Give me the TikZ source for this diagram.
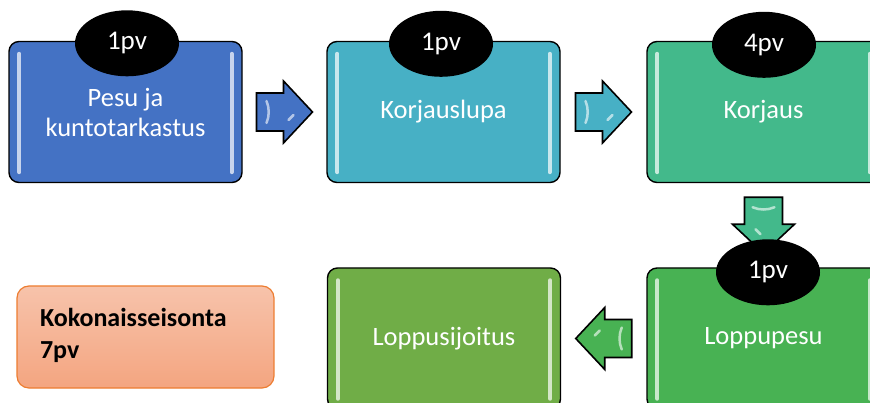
\documentclass[tikz,border=0pt]{standalone}
\usepackage{fontspec}
\setmainfont{Carlito}
\usetikzlibrary{calc,shapes.geometric}
\definecolor{cblue}{HTML}{4472C4}
\definecolor{cteal}{HTML}{47B0C5}
\definecolor{cmint}{HTML}{43B98B}
\definecolor{cgreen}{HTML}{48B253}
\definecolor{cleaf}{HTML}{70AD47}
\definecolor{corange}{HTML}{ED7D31}
\definecolor{ctop}{HTML}{F7C3AB}
\definecolor{cbot}{HTML}{F4A580}
\begin{document}
\begin{tikzpicture}[x=1pt,y=-1pt,
  stage/.style={draw=black, line width=1.4pt, rounded corners=10pt,
    minimum width=233pt, minimum height=141pt, inner sep=0pt,
    text=white, align=center, font=\fontsize{26.5}{30}\selectfont},
  badge/.style={ellipse, fill=black, minimum width=104pt, minimum height=66pt,
    inner sep=0pt, text=white, font=\fontsize{27}{30}\selectfont},
  summary/.style={draw=corange, line width=1.2pt, rounded corners=12pt,
    top color=ctop, bottom color=cbot, minimum width=257pt, minimum height=102pt,
    text width=211pt, align=left, inner sep=0pt,
    font=\bfseries\fontsize{26}{32}\selectfont},
  blockarrow/.style={draw=black, line width=1.6pt, line join=miter},
  shine/.style={draw=white, opacity=0.7, line width=4pt, line cap=round},
  glint/.style={draw=white, opacity=0.6, line width=2.5pt, line cap=round}]

\useasboundingbox (0,0) rectangle (870,403);
\clip (0,0) rectangle (870,403);

% process stages
\node[stage, fill=cblue]  (b1) at (125.5,112)   {Pesu ja\\kuntotarkastus};
\node[stage, fill=cteal]  (b2) at (443.5,112)   {Korjauslupa};
\node[stage, fill=cmint]  (b3) at (763.5,112)   {Korjaus};
\node[stage, fill=cleaf]  (b4) at (444,338.5)   {Loppusijoitus};
\node[stage, fill=cgreen] (b5) at (763.5,338.5) {Loppupesu};

% glossy side highlights
\foreach \n in {b1,b2,b3,b4,b5}{
  \draw[shine] ($(\n.north west)+(11,13)$) -- ($(\n.south west)+(11,-11)$);
  \draw[shine] ($(\n.north east)+(-11,13)$) -- ($(\n.south east)+(-11,-11)$);
}

% block arrows between the stages
\foreach \a/\b/\ang/\col in {b1/b2/0/cblue, b2/b3/0/cteal, b3/b5/-90/cmint, b5/b4/180/cgreen}{
  \ifnum\ang=-90
    \coordinate (m) at ($(\a.south)!0.5!(\b.north)$);
  \else\ifnum\ang=0
    \coordinate (m) at ($(\a.east)!0.5!(\b.west)$);
  \else
    \coordinate (m) at ($(\a.west)!0.5!(\b.east)$);
  \fi\fi
  \begin{scope}[shift={(m)}, rotate=\ang]
    \draw[blockarrow, fill=\col] (-28,-19) -- (-1,-19) -- (-1,-31) -- (28,0)
      -- (-1,31) -- (-1,19) -- (-28,19) -- cycle;
    \draw[glint] (-18,-11) .. controls (-15,-4) and (-15,4) .. (-18,11);
    \draw[glint] (4,8) -- (9,3);
  \end{scope}
}

% durations
\node[badge] (t1) at ($(b1.north)+(1.5,2.5)$) {1pv};
\node[badge] (t2) at ($(b2.north)+(-2.5,3)$)  {1pv};
\node[badge] (t3) at ($(b3.north)+(0.5,4)$)   {4pv};
\node[badge] (t5) at ($(b5.north)+(4.5,5)$)   {1pv};

% total downtime
\node[summary] (tot) at (145.5,337) {Kokonaisseisonta\\7pv\vspace{4pt}};
\end{tikzpicture}
\end{document}
